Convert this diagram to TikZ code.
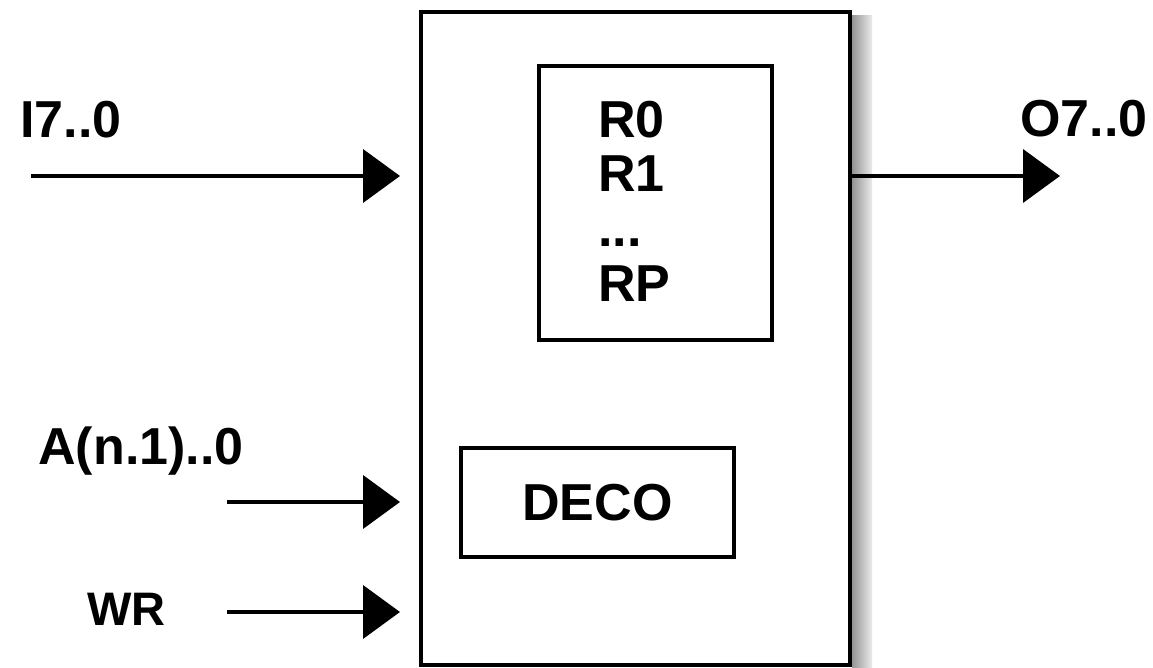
\documentclass[tikz,border=0pt]{standalone}
\usepackage{fontspec}
\setmainfont{Liberation Sans}
\usetikzlibrary{arrows.meta}
\begin{document}
\begin{tikzpicture}[x=0.5pt,y=-0.5pt,
  box/.style={draw, line width=2pt, outer sep=0pt, inner sep=0pt},
  lbl/.style={font=\fontsize{26}{30}\selectfont\bfseries, inner sep=0pt, anchor=base west},
  smalllbl/.style={font=\fontsize{23.5}{28}\selectfont\bfseries, inner sep=0pt, anchor=base west},
  arr/.style={line width=2pt, -{Triangle[length=18.5pt,width=26.5pt]}}]
\useasboundingbox (0,0) rectangle (1153,668);
% shadow
\fill[left color=black!42, right color=black!8] (852,16) rectangle (872,668);
% boxes
\node[box, minimum width=214.5pt, minimum height=326.5pt] (main) at (635.5,338.5) {};
\node[box, minimum width=116.5pt, minimum height=137pt] (regs) at (655.5,203) {};
\node[box, minimum width=136.5pt, minimum height=54.5pt, font=\fontsize{26}{30}\selectfont\bfseries] (deco) at (597.5,502.5) {DECO};
% register texts
\node[lbl] (r0) at (598,138) {R0};
\node[lbl] (r1) at (598,192) {R1};
\node[lbl] (rd) at (598,247) {...};
\node[lbl] (rp) at (598,302) {RP};
% labels
\node[lbl] (li) at (20,138) {I7..0};
\node[lbl] (lo) at (1020,137) {O7..0};
\node[lbl] (la) at (38,465) {A(n.1)..0};
\node[smalllbl] (lw) at (87,625) {WR};
% connectors
\coordinate (iS) at (31,176);
\coordinate (iT) at (400,176);
\coordinate (oT) at (1060,176);
\coordinate (aS) at (227,502);
\coordinate (aT) at (400,502);
\coordinate (wS) at (227,612);
\coordinate (wT) at (400,612);
\draw[arr] (iS) -- (iT);
\draw[arr] (main.east |- iS) -- (oT);
\draw[arr] (aS) -- (aT);
\draw[arr] (wS) -- (wT);
\end{tikzpicture}
\end{document}
